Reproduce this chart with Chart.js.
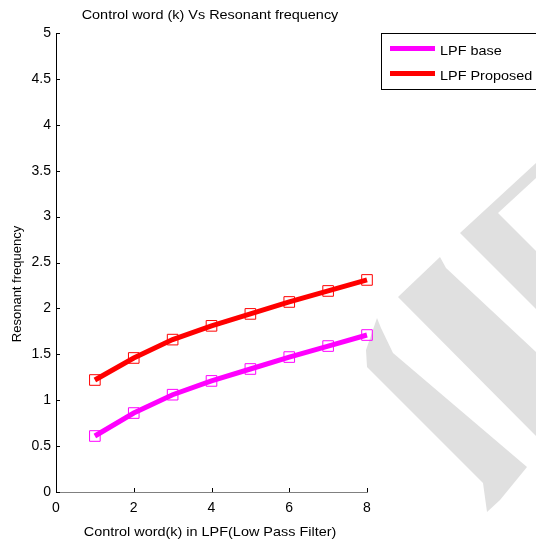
<!DOCTYPE html>
<html>
<head>
<meta charset="utf-8">
<script src="https://cdn.jsdelivr.net/npm/chart.js@4.4.1/dist/chart.umd.min.js"></script>
<style>
  html, body { margin: 0; padding: 0; background: #fff; }
  #wrap { width: 536px; height: 540px; }
</style>
</head>
<body>
<div id="wrap"><canvas id="lpf" width="536" height="540"></canvas></div>
<script>
// values
var controlWord = [1, 2, 3, 4, 5, 6, 7, 8]
var lpfBase = [0.61, 0.86, 1.06, 1.21, 1.34, 1.47, 1.59, 1.71]
var lpfProposed = [1.22, 1.46, 1.66, 1.81, 1.94, 2.07, 2.19, 2.31]
var seriesNames = ["LPF base", "LPF Proposed"]
var chartTitle = "Control word (k) Vs Resonant frequency"
var xTitle = "Control word(k) in LPF(Low Pass Filter)"
var yTitle = "Resonant frequency"

var FONT = "'Liberation Sans', Arial, sans-serif"
Chart.defaults.font.family = FONT
Chart.defaults.font.size = 14
Chart.defaults.color = "#000"

function pts(ys) {
  return controlWord.map((x, i) => ({x: x, y: ys[i]}))
}

// grey watermark strokes behind the plot
var watermark = [
  [[377,318],[381,328],[393,353],[527,467],[500,500],[487,512],[483,483],[367,367],[366,350]],
  [[398,297],[440,257],[446,268],[536,352],[536,436]],
  [[460,233],[536,163],[536,178],[498,213],[536,251],[536,309]]
]

// horizontal text in the source is a little wider than it is tall
function wideText(ctx, txt, x, y, align) {
  ctx.save()
  ctx.translate(x, y)
  ctx.scale(1.11, 1)
  ctx.textAlign = align
  ctx.fillText(txt, 0, 0)
  ctx.restore()
}

var decor = {
  id: "decor",
  beforeDraw(chart) {
    var ctx = chart.ctx
    ctx.save()
    ctx.fillStyle = "#fff"
    ctx.fillRect(0, 0, chart.width, chart.height)
    ctx.fillStyle = "#e0e0e0"
    watermark.forEach(poly => {
      ctx.beginPath()
      poly.forEach((p, i) => i ? ctx.lineTo(p[0], p[1]) : ctx.moveTo(p[0], p[1]))
      ctx.closePath()
      ctx.fill()
    })
    ctx.restore()
  },
  afterDraw(chart) {
    var ctx = chart.ctx
    var a = chart.chartArea
    var xs = chart.scales.x, ys = chart.scales.y
    ctx.save()
    // inward tick marks
    ctx.strokeStyle = "#000"
    ctx.lineWidth = 1
    ys.ticks.forEach(t => {
      var y = Math.round(ys.getPixelForValue(t.value)) + 0.5
      ctx.beginPath(); ctx.moveTo(a.left, y); ctx.lineTo(a.left + 4, y); ctx.stroke()
    })
    xs.ticks.forEach(t => {
      var x = Math.round(xs.getPixelForValue(t.value)) + 0.5
      ctx.beginPath(); ctx.moveTo(x, a.bottom); ctx.lineTo(x, a.bottom - 4); ctx.stroke()
    })

    // titles
    ctx.fillStyle = "#000"
    ctx.font = "13px " + FONT
    ctx.textBaseline = "middle"
    wideText(ctx, chartTitle, 210, 15, "center")
    wideText(ctx, xTitle, 210, 532, "center")
    ctx.save()
    ctx.translate(17, 284)
    ctx.rotate(-Math.PI / 2)
    ctx.textAlign = "center"
    ctx.fillText(yTitle, 0, 0)
    ctx.restore()

    // legend box
    ctx.strokeStyle = "#000"
    ctx.strokeRect(381.5, 33.5, 160, 56)
    chart.data.datasets.forEach((ds, i) => {
      var y = 48.5 + i * 25
      ctx.strokeStyle = ds.borderColor
      ctx.lineWidth = 5
      ctx.beginPath(); ctx.moveTo(390, y); ctx.lineTo(435, y); ctx.stroke()
      wideText(ctx, ds.label, 440, y + 3, "left")
    })
    ctx.restore()
  }
}

new Chart("lpf", {
  type: "line",
  data: {
    datasets: [{
      label: seriesNames[0],
      data: pts(lpfBase),
      borderColor: "#ff00ff",
      borderWidth: 5,
      pointStyle: "rect",
      pointRadius: 7.5,
      pointBorderWidth: 1,
      pointBorderColor: "#ff00ff",
      pointBackgroundColor: "rgba(0,0,0,0)",
      tension: 0,
      clip: false
    }, {
      label: seriesNames[1],
      data: pts(lpfProposed),
      borderColor: "#ff0000",
      borderWidth: 5,
      pointStyle: "rect",
      pointRadius: 7.5,
      pointBorderWidth: 1,
      pointBorderColor: "#ff0000",
      pointBackgroundColor: "rgba(0,0,0,0)",
      tension: 0,
      clip: false
    }]
  },
  options: {
    responsive: false,
    animation: false,
    layout: {padding: {top: 33, right: 169, left: 0, bottom: 0}},
    plugins: {
      legend: {display: false},
      title: {display: false},
      tooltip: {enabled: false}
    },
    scales: {
      x: {
        type: "linear",
        min: 0, max: 8,
        ticks: {stepSize: 2, padding: 8, maxRotation: 0},
        grid: {display: false, drawTicks: false},
        border: {color: "#808080", width: 1},
        afterFit: s => { s.height = 48 }
      },
      y: {
        min: 0, max: 5,
        ticks: {stepSize: 0.5, padding: 5, callback: v => String(v)},
        grid: {display: false, drawTicks: false},
        border: {color: "#000", width: 1},
        afterFit: s => { s.width = 56 }
      }
    }
  },
  plugins: [decor]
})
</script>
</body>
</html>
